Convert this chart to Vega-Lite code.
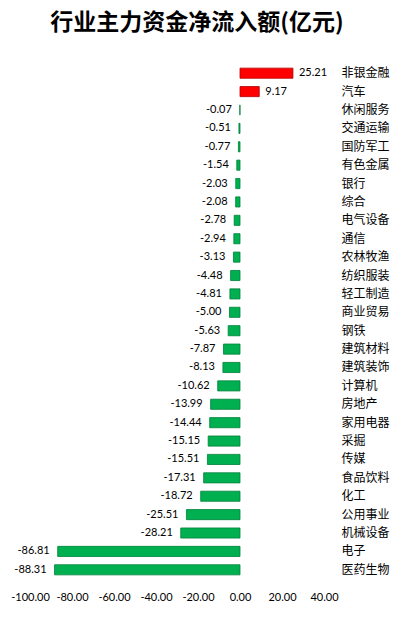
{
  "$schema": "https://vega.github.io/schema/vega-lite/v6.json",
  "autosize": "none",
  "width": 294,
  "height": 515,
  "padding": {"left": 30, "top": 64, "right": 77, "bottom": 40},
  "background": "white",
  "title": {
    "text": "行业主力资金净流入额(亿元)",
    "font": "Noto Sans CJK SC",
    "fontSize": 23,
    "fontWeight": "bold",
    "color": "#000000",
    "anchor": "middle",
    "dx": 20,
    "offset": 29
  },
  "config": {
    "view": {"stroke": null},
    "font": "Lato",
    "locale": {
      "number": {
        "decimal": ".",
        "thousands": ",",
        "grouping": [3],
        "currency": ["", ""],
        "minus": "-"
      }
    }
  },
  "data": {
    "values": [
      {"industry": "非银金融", "value": 25.21},
      {"industry": "汽车", "value": 9.17},
      {"industry": "休闲服务", "value": -0.07},
      {"industry": "交通运输", "value": -0.51},
      {"industry": "国防军工", "value": -0.77},
      {"industry": "有色金属", "value": -1.54},
      {"industry": "银行", "value": -2.03},
      {"industry": "综合", "value": -2.08},
      {"industry": "电气设备", "value": -2.78},
      {"industry": "通信", "value": -2.94},
      {"industry": "农林牧渔", "value": -3.13},
      {"industry": "纺织服装", "value": -4.48},
      {"industry": "轻工制造", "value": -4.81},
      {"industry": "商业贸易", "value": -5.0},
      {"industry": "钢铁", "value": -5.63},
      {"industry": "建筑材料", "value": -7.87},
      {"industry": "建筑装饰", "value": -8.13},
      {"industry": "计算机", "value": -10.62},
      {"industry": "房地产", "value": -13.99},
      {"industry": "家用电器", "value": -14.44},
      {"industry": "采掘", "value": -15.15},
      {"industry": "传媒", "value": -15.51},
      {"industry": "食品饮料", "value": -17.31},
      {"industry": "化工", "value": -18.72},
      {"industry": "公用事业", "value": -25.51},
      {"industry": "机械设备", "value": -28.21},
      {"industry": "电子", "value": -86.81},
      {"industry": "医药生物", "value": -88.31}
    ]
  },
  "encoding": {
    "y": {
      "field": "industry",
      "type": "nominal",
      "sort": null,
      "scale": {"paddingInner": 0.45},
      "axis": {
        "orient": "right",
        "title": null,
        "domain": false,
        "ticks": false,
        "labelAlign": "left",
        "labelPadding": 17,
        "labelFont": "Noto Sans CJK SC",
        "labelFontSize": 12,
        "labelColor": "#000000"
      }
    },
    "x": {
      "field": "value",
      "type": "quantitative",
      "scale": {"domain": [-100, 40], "nice": false},
      "axis": {
        "title": null,
        "values": [-100, -80, -60, -40, -20, 0, 20, 40],
        "format": ".2f",
        "grid": false,
        "domain": false,
        "ticks": false,
        "labelOverlap": false,
        "labelBound": false,
        "labelFlush": false,
        "labelPadding": 12,
        "labelFontSize": 11,
        "labelColor": "#000000"
      }
    }
  },
  "layer": [
    {
      "mark": {"type": "bar", "strokeWidth": 0.8},
      "encoding": {
        "color": {
          "condition": {"test": "datum.value > 0", "value": "#FF0000"},
          "value": "#00B050"
        },
        "stroke": {
          "condition": {"test": "datum.value > 0", "value": "#B00000"},
          "value": "#00803A"
        }
      }
    },
    {
      "transform": [{"filter": "datum.value > 0"}],
      "mark": {"type": "text", "align": "left", "dx": 6, "fontSize": 11, "color": "#000000"},
      "encoding": {"text": {"field": "value", "type": "quantitative", "format": ".2f"}}
    },
    {
      "transform": [{"filter": "datum.value <= 0"}],
      "mark": {"type": "text", "align": "right", "dx": -8, "fontSize": 11, "color": "#000000"},
      "encoding": {"text": {"field": "value", "type": "quantitative", "format": ".2f"}}
    }
  ]
}
